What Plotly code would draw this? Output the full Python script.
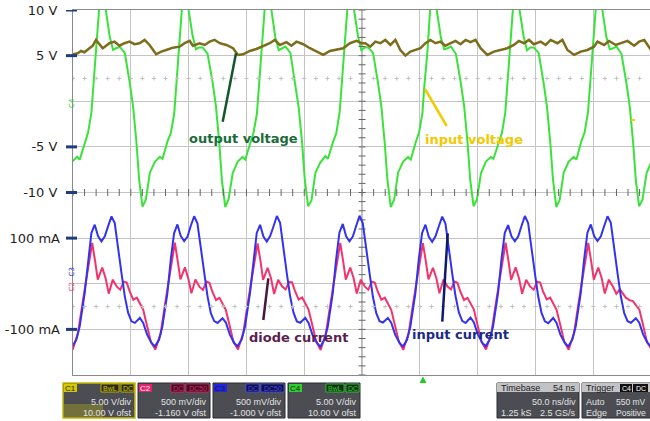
import plotly.graph_objects as go
import numpy as np

# ---------------- data ----------------
# C4 (green) - "input voltage" trace, volts vs time (ns)
c4_t = [-8.6, -5.1, -0.8, 3.5,
        5.8, 10.1, 13.0, 15.9, 17.3, 20.3, 22.5, 25.3, 28.3, 31.8, 34.7, 37.6, 40.5, 44.8, 49.1, 52.0, 54.9, 57.2, 60.1, 63.0, 66.5, 70.8, 75.1,
        77.4, 81.7, 84.6, 87.5, 88.9, 91.9, 94.1, 96.9, 99.9, 103.4, 106.3, 109.2, 112.1, 116.4, 120.7, 123.6, 126.5, 128.8, 131.7, 134.6, 138.1, 142.4, 146.7,
        149.0, 153.3, 156.2, 159.1, 160.5, 163.5, 165.7, 168.5, 171.5, 175.0, 177.9, 180.8, 183.7, 188.0, 192.3, 195.2, 198.1, 200.4, 203.3, 206.2, 209.7, 214.0, 218.3,
        220.5, 224.8, 227.7, 230.6, 232.0, 235.0, 237.2, 240.0, 243.0, 246.5, 249.4, 252.3, 255.2, 259.5, 263.8, 266.7, 269.6, 271.9, 274.8, 277.7, 281.2, 285.5, 289.8,
        292.1, 296.4, 299.3, 302.2, 303.6, 306.6, 308.8, 311.6, 314.6, 318.1, 321.0, 323.9, 326.8, 331.1, 335.4, 338.3, 341.2, 343.5, 346.4, 349.3, 352.8, 357.1, 361.4,
        363.7, 368.0, 370.9, 373.8, 375.2, 378.2, 380.4, 383.2, 386.2, 389.7, 392.6, 395.5, 398.4, 402.7, 407.0, 409.9, 412.8, 415.1, 418.0, 420.9, 424.4, 428.7, 433.0,
        435.3, 439.6, 442.5, 445.4, 446.8, 449.8, 452.0, 454.8, 457.8, 461.3, 464.2, 467.1, 470.0, 474.3, 478.6, 481.5, 484.4, 486.7, 489.6, 492.5, 496.0, 500.3, 504.6]
c4_v = [-10.8, -7.83, -6.63, -6.08,
        -6.4, -4.55, -3.46, -1.27, 1.25, 5.62, 10.0, 12.6, 10.0, 7.05, 5.62, 5.84, 5.95, 5.29, 2.01, -0.61, -4.55, -8.6, -11.55, -10.8, -7.83, -6.63, -6.08,
        -6.3, -4.4, -3.5, -1.4, 1.1, 5.5, 10.0, 12.5, 10.0, 7.2, 5.7, 5.9, 5.9, 5.2, 2.1, -0.5, -4.6, -8.7, -11.6, -10.7, -7.9, -6.6, -6.1,
        -6.4, -4.6, -3.4, -1.3, 1.3, 5.7, 10.0, 12.7, 10.0, 7.0, 5.6, 5.8, 6.0, 5.3, 1.9, -0.7, -4.5, -8.5, -11.5, -10.9, -7.8, -6.7, -6.0,
        -6.3, -4.5, -3.5, -1.2, 1.2, 5.6, 10.0, 12.6, 10.0, 7.1, 5.6, 5.9, 5.9, 5.3, 2.0, -0.6, -4.6, -8.6, -11.6, -10.8, -7.8, -6.6, -6.1,
        -6.4, -4.5, -3.4, -1.3, 1.3, 5.6, 10.0, 12.6, 10.0, 7.0, 5.7, 5.8, 6.0, 5.2, 2.0, -0.6, -4.5, -8.6, -11.5, -10.8, -7.9, -6.6, -6.1,
        -6.3, -4.6, -3.5, -1.3, 1.2, 5.6, 10.0, 12.5, 10.0, 7.1, 5.6, 5.9, 5.9, 5.3, 2.0, -0.6, -4.6, -8.6, -11.6, -10.8, -7.8, -6.6, -6.1,
        -6.4, -4.4, -3.4, -1.2, 1.3, 5.7, 10.0, 12.6, 10.0, 7.0, 5.7, 5.8, 6.0, 5.2, 2.0, -0.6, -4.5, -8.6, -11.5, -10.8, -7.9, -6.6, -6.1]

# C1 (olive) - "output voltage" trace
c1_t = [0.0, 4.1, 6.9, 9.9, 14.2, 17.1, 19.9, 22.9, 25.7, 28.6, 31.5, 35.9, 40.2, 44.5, 48.9, 53.2, 57.5, 61.9, 66.2,
        71.9, 76.3, 80.6, 86.4, 92.2, 96.5, 100.9, 103.7, 109.5, 113.9, 118.2, 122.5, 126.9, 132.6, 138.4,
        142.7, 147.1, 152.9, 158.6, 164.4, 170.2, 174.5, 178.9, 184.6, 188.9, 193.3, 199.1, 204.9, 210.6,
        216.4, 222.2, 227.9, 233.7, 239.5, 245.2, 249.6, 252.8, 257.1, 261.5, 265.8, 270.1, 274.5, 278.8, 283.1,
        287.5, 291.8, 296.1, 300.5, 304.8, 309.1, 313.5, 317.8, 322.1, 326.5, 330.8, 335.1, 339.5, 343.8, 348.1, 352.5,
        358.3, 364.0, 369.8, 375.6, 381.3, 385.6, 390.0, 394.3, 398.6, 404.4, 408.8, 413.1, 418.9, 423.2, 427.6,
        433.3, 439.1, 444.9, 450.6, 453.6, 459.3, 463.6, 469.4, 473.8, 479.6, 485.3, 489.6, 494.0, 498.3, 500.0]
c1_v = [5.15, 5.26, 5.51, 5.37, 5.81, 6.09, 6.72, 6.25, 5.81, 6.09, 6.36, 6.53, 6.09, 6.36, 6.53, 6.25, 6.36, 6.72, 6.17,
        5.15, 5.44, 5.62, 5.87, 5.98, 6.36, 6.61, 6.09, 6.36, 6.17, 6.53, 6.72, 6.36, 6.17, 5.81,
        5.08, 5.15, 5.51, 5.73, 6.09, 6.36, 6.72, 6.17, 6.47, 6.09, 6.53, 6.25, 5.81, 5.44,
        5.08, 5.51, 5.62, 5.81, 6.36, 6.61, 6.36, 6.36, 5.98, 6.53, 6.36, 6.72, 6.17, 6.72, 5.62,
        5.00, 5.44, 5.62, 5.81, 6.36, 6.72, 6.36, 6.53, 6.09, 6.36, 6.61, 6.25, 6.72, 6.47, 6.72, 5.81,
        5.08, 5.44, 5.62, 5.81, 6.17, 6.61, 6.36, 6.72, 6.25, 6.53, 6.17, 6.72, 6.36, 6.72, 5.62,
        5.08, 5.44, 5.62, 5.98, 6.53, 6.17, 6.61, 6.17, 6.36, 6.61, 6.09, 6.53, 6.72, 5.81, 5.60]

# C3 (blue) - "input current", mA
c3_t = [-10.8, -7.4, -3.6, -0.7,
        2.9, 5.8, 10.1, 13.0, 15.9, 18.8, 21.7, 24.6, 27.5, 30.3, 33.3, 36.1, 39.0, 41.9, 44.8, 47.7, 50.6, 53.5, 57.8, 60.7, 64.1, 67.9, 70.8,
        74.4, 77.3, 81.6, 84.5, 87.4, 90.3, 93.2, 96.1, 99.0, 101.8, 104.8, 107.6, 110.5, 113.4, 116.3, 119.2, 122.1, 125.0, 129.3, 132.2, 135.6, 139.4, 142.3,
        145.9, 148.8, 153.1, 156.0, 158.9, 161.8, 164.7, 167.6, 170.5, 173.3, 176.3, 179.1, 182.0, 184.9, 187.8, 190.7, 193.6, 196.5, 200.8, 203.7, 207.1, 210.9, 213.8,
        217.4, 220.3, 224.6, 227.5, 230.4, 233.3, 236.2, 239.1, 242.0, 244.8, 247.8, 250.6, 253.5, 256.4, 259.3, 262.2, 265.1, 268.0, 272.3, 275.2, 278.6, 282.4, 285.3,
        288.9, 291.8, 296.1, 299.0, 301.9, 304.8, 307.7, 310.6, 313.5, 316.3, 319.3, 322.1, 325.0, 327.9, 330.8, 333.7, 336.6, 339.5, 343.8, 346.7, 350.1, 353.9, 356.8,
        360.4, 363.3, 367.6, 370.5, 373.4, 376.3, 379.2, 382.1, 385.0, 387.8, 390.8, 393.6, 396.5, 399.4, 402.3, 405.2, 408.1, 411.0, 415.3, 418.2, 421.6, 425.4, 428.3,
        431.9, 434.8, 439.1, 442.0, 444.9, 447.8, 450.7, 453.6, 456.5, 459.3, 462.3, 465.1, 468.0, 470.9, 473.8, 476.7, 479.6, 482.5, 486.8, 489.7, 493.1, 496.9, 499.8,
        503.4]
c3_i = [-85.8, -111.4, -129.6, -137.3,
        -122.6, -93.5, -20.4, 52.8, 111.2, 129.4, 103.8, 92.9, 103.8, 125.7, 147.5, 133.1, 74.6, 23.6, -27.6, -63.9, -82.3, -85.8, -74.9, -85.8, -111.4, -129.6, -137.3,
        -123.0, -94.0, -21.0, 52.0, 110.5, 130.0, 104.5, 93.5, 103.0, 126.5, 148.0, 132.5, 75.5, 24.0, -27.0, -64.5, -82.0, -86.0, -75.5, -85.0, -111.0, -130.0, -137.0,
        -122.0, -93.0, -20.0, 53.5, 111.5, 129.0, 103.5, 92.5, 104.5, 125.0, 148.5, 133.5, 74.0, 23.0, -28.0, -63.5, -82.5, -85.5, -74.5, -86.0, -112.0, -129.0, -138.0,
        -122.5, -94.5, -21.5, 52.5, 112.0, 131.0, 104.0, 93.0, 103.5, 126.0, 149.0, 133.0, 75.0, 24.5, -27.5, -64.0, -82.0, -85.0, -75.0, -85.5, -111.5, -129.5, -137.5,
        -123.0, -93.5, -20.5, 53.0, 111.0, 129.5, 103.0, 92.0, 104.0, 125.5, 147.0, 132.0, 74.5, 23.5, -27.0, -63.0, -81.5, -86.0, -74.0, -85.0, -111.0, -129.0, -137.0,
        -122.5, -93.0, -20.0, 52.5, 111.5, 128.5, 104.0, 93.0, 103.5, 126.0, 148.5, 133.0, 74.5, 24.0, -27.5, -64.0, -82.5, -86.5, -75.0, -86.0, -112.0, -130.0, -137.5,
        -122.0, -93.5, -20.5, 53.0, 112.0, 130.0, 104.5, 93.5, 104.0, 126.0, 148.0, 133.5, 75.0, 23.5, -28.0, -64.5, -82.0, -85.5, -75.5, -85.5, -111.5, -129.5, -137.0,
        -122.6]

# C2 (red) - "diode current", mA
c2_t = [-10.8, -7.9, -4.2, -0.3,
        4.3, 8.7, 13.0, 16.6, 19.2, 21.4, 25.3, 28.3, 30.9, 34.4, 37.9, 40.9, 43.9, 46.5, 49.1, 52.2, 55.2, 57.8, 60.7, 63.6, 67.3, 71.2,
        75.8, 80.2, 84.5, 88.1, 90.7, 92.9, 96.8, 99.8, 102.4, 105.9, 109.4, 112.4, 115.4, 118.0, 120.6, 123.7, 126.7, 129.3, 132.2, 135.1, 138.8, 142.7,
        147.3, 151.7, 156.0, 159.6, 162.2, 164.4, 168.3, 171.3, 173.9, 177.4, 180.9, 183.9, 186.9, 189.5, 192.1, 195.2, 198.2, 200.8, 203.7, 206.6, 210.3, 214.2,
        218.8, 223.2, 227.5, 231.1, 233.7, 235.9, 239.8, 242.8, 245.4, 248.9, 252.4, 255.4, 258.4, 261.0, 263.6, 266.7, 269.7, 272.3, 275.2, 278.1, 281.8, 285.7,
        290.3, 294.7, 299.0, 302.6, 305.2, 307.4, 311.3, 314.3, 316.9, 320.4, 323.9, 326.9, 329.9, 332.5, 335.1, 338.2, 341.2, 343.8, 346.7, 349.6, 353.3, 357.2,
        361.8, 366.2, 370.5, 374.1, 376.7, 378.9, 382.8, 385.8, 388.4, 391.9, 395.4, 398.4, 401.4, 404.0, 406.6, 409.7, 412.7, 415.3, 418.2, 421.1, 424.8, 428.7,
        433.3, 437.7, 442.0, 445.6, 448.2, 450.4, 454.3, 457.3, 459.9, 463.4, 466.9, 469.9, 472.9, 475.5, 478.1, 481.2, 484.2, 486.8, 489.7, 492.6, 496.3, 500.2,
        504.8]
c2_i = [-56.9, -87.6, -127.0, -144.3,
        -107.8, -34.8, 30.9, 89.3, 48.2, 9.0, 35.3, 11.2, -21.7, 9.0, -6.4, -12.9, 4.6, 2.4, -17.5, -35.0, -30.6, -43.8, -56.9, -87.6, -127.0, -144.3,
        -108.5, -35.5, 30.0, 90.0, 47.5, 9.5, 36.0, 10.5, -21.0, 9.5, -7.0, -13.5, 5.0, 2.0, -18.0, -35.5, -31.0, -44.0, -57.5, -88.0, -127.5, -144.0,
        -107.0, -34.0, 31.5, 88.5, 49.0, 8.5, 35.0, 11.5, -22.5, 8.5, -6.0, -12.5, 4.0, 3.0, -17.0, -34.5, -30.0, -43.0, -56.5, -87.0, -126.5, -145.0,
        -108.0, -35.0, 31.0, 89.5, 48.5, 9.0, 35.5, 11.0, -21.5, 9.0, -6.5, -13.0, 4.5, 2.5, -17.5, -35.0, -30.5, -44.0, -57.0, -87.5, -127.0, -144.5,
        -107.5, -34.5, 30.5, 89.0, 48.0, 9.5, 35.0, 11.5, -21.0, 9.5, -6.0, -12.5, 5.0, 2.0, -18.0, -35.5, -31.0, -43.5, -56.5, -88.0, -127.5, -144.0,
        -108.0, -35.0, 31.0, 90.0, 48.5, 8.5, 36.0, 11.0, -22.0, 8.5, -6.5, -13.0, 4.5, 2.5, -17.5, -34.5, -30.5, -44.5, -57.0, -87.0, -126.5, -144.5,
        -107.5, -34.5, 30.5, 89.5, 48.0, 9.0, 35.5, 11.5, -21.5, 9.0, -6.0, -22.0, -12.0, -20.0, -30.5, -36.0, -38.0, -47.0, -56.0, -86.0, -127.0, -144.0,
        -107.8]

# axis ticks / labels
v_tick_vals = [10, 5, -5, -10]
v_tick_text = ["10 V", "5 V", "-5 V", "-10 V"]
i_tick_vals = [100, -100]
i_tick_text = ["100 mA", "-100 mA"]

# annotation texts
label_texts = ["output voltage", "input voltage", "diode current", "input current"]

# ---------------- layout geometry helpers ----------------
W, H = 650, 421
ML, MR, MT, MB = 73, 0, 10, 46
PW, PH = W - ML - MR, H - MT - MB


def px(x):
    return (x - ML) / PW


def py(y):
    return (H - MB - y) / PH


GRID = "#c4c4c4"
AX = "#8a8a8a"

fig = go.Figure()

# scope traces
fig.add_trace(go.Scatter(x=c4_t, y=c4_v, mode="lines", line=dict(color="#3ae23a", width=2), yaxis="y"))
fig.add_trace(go.Scatter(x=c1_t, y=c1_v, mode="lines", line=dict(color="#7c6c1c", width=2.5), yaxis="y"))
fig.add_trace(go.Scatter(x=c2_t, y=c2_i, mode="lines", line=dict(color="#f2336c", width=2), yaxis="y2"))
fig.add_trace(go.Scatter(x=c3_t, y=c3_i, mode="lines", line=dict(color="#3333ee", width=2), yaxis="y2"))

# graticule decorations: minor ticks on the centre axes and dotted level lines
mt_x = np.arange(0, 500, 10)
fig.add_trace(go.Scatter(x=mt_x, y=np.full(mt_x.shape, -10.0), mode="markers",
                         marker=dict(symbol="line-ns", size=5, line=dict(color="#666", width=1)),
                         yaxis="y", hoverinfo="skip"))
mt_y = np.arange(-30, 10.01, 1)
fig.add_trace(go.Scatter(x=np.full(mt_y.shape, 250.0), y=mt_y, mode="markers",
                         marker=dict(symbol="line-ew", size=5, line=dict(color="#666", width=1)),
                         yaxis="y", hoverinfo="skip"))
fig.add_trace(go.Scatter(x=mt_x, y=np.full(mt_x.shape, 2.5), mode="markers",
                         marker=dict(symbol="cross-thin", size=3, line=dict(color="#c2c2c2", width=1)),
                         yaxis="y", hoverinfo="skip"))
fig.add_trace(go.Scatter(x=mt_x, y=np.full(mt_x.shape, -50.0), mode="markers",
                         marker=dict(symbol="cross-thin", size=3, line=dict(color="#c2c2c2", width=1)),
                         yaxis="y2", hoverinfo="skip"))

shapes = []
# darker centre axes
shapes.append(dict(type="line", xref="paper", yref="y", x0=0, x1=1, y0=-10, y1=-10,
                   line=dict(color="#7a7a7a", width=1.2), layer="below"))
shapes.append(dict(type="line", xref="x", yref="paper", x0=250, x1=250, y0=0, y1=1,
                   line=dict(color="#7a7a7a", width=1.2), layer="below"))
# left tick dashes
for v in v_tick_vals:
    shapes.append(dict(type="line", xref="paper", yref="y", x0=px(66), x1=px(77), y0=v, y1=v,
                       line=dict(color="#203c7c", width=3)))
for v in i_tick_vals:
    shapes.append(dict(type="line", xref="paper", yref="y2", x0=px(66), x1=px(77), y0=v, y1=v,
                       line=dict(color="#203c7c", width=3)))

# annotation pointer lines
pointers = [((222.7, 121.7), (236, 53.3), "#11572c"),
            ((425, 89), (446.7, 126), "#f2cc00"),
            ((268.3, 278.3), (263.3, 320), "#4a1740"),
            ((447.7, 233.3), (442.3, 321.7), "#0f1a6e")]
for (a, b, col) in pointers:
    shapes.append(dict(type="line", xref="paper", yref="paper", x0=px(a[0]), y0=py(a[1]),
                       x1=px(b[0]), y1=py(b[1]), line=dict(color=col, width=2.5)))

# small yellow marker on the right
shapes.append(dict(type="line", xref="paper", yref="paper", x0=px(631), x1=px(635), y0=py(120), y1=py(120),
                   line=dict(color="#f5d000", width=2)))

annotations = []
lab_pos = [(187, 138, "#1b6b3a"), (423, 139, "#f2c800"), (247, 337, "#5a1e50"), (410, 334, "#1c2a85")]
for txt, (x, y, col) in zip(label_texts, lab_pos):
    annotations.append(dict(xref="paper", yref="paper", x=px(x), y=py(y), text="<b>%s</b>" % txt,
                            showarrow=False, xanchor="left", yanchor="middle",
                            font=dict(family="DejaVu Sans", size=13, color=col)))

# channel tags on left edge
for txt, x, y, col in [("C4", 66, 96, "#30c030"), ("C3", 65, 279, "#3030e0"), ("C2", 65, 294, "#f0306a")]:
    annotations.append(dict(xref="paper", yref="paper", x=px(x), y=py(y), text=txt, showarrow=False,
                            textangle=-90, font=dict(family="DejaVu Sans", size=7, color=col)))

# ---------------- bottom info boxes ----------------
BOX = "#4b4d52"
TXT = "#e2e2e2"
F = "Liberation Sans"


def rect(x0, y0, x1, y1, fill, line=None, lw=0):
    shapes.append(dict(type="rect", xref="paper", yref="paper", x0=px(x0), x1=px(x1), y0=py(y1), y1=py(y0),
                       fillcolor=fill, line=dict(color=line or fill, width=lw), layer="above"))


def text(x, y, s, col=TXT, anchor="right", size=9):
    annotations.append(dict(xref="paper", yref="paper", x=px(x), y=py(y), text=s, showarrow=False,
                            xanchor=anchor, yanchor="middle", font=dict(family=F, size=size, color=col)))


chan_boxes = [
    (63, "C1", "#d6c800", "#2b2a14", ["BwL", "DC"], "#d6c800", "5.00 V/div", "10.00 V ofst"),
    (138, "C2", "#e8206a", "#3a1222", ["DC", "DC50"], "#e8206a", "500 mV/div", "-1.160 V ofst"),
    (213, "C3", "#2424e8", "#10113c", ["DC", "DC50"], "#4a4aff", "500 mV/div", "-1.000 V ofst"),
    (288, "C4", "#30d030", "#133014", ["BwL", "DC"], "#30d030", "5.00 V/div", "10.00 V ofst"),
]
for x0, name, tagc, tagbg, tags, tagtxt, l1, l2 in chan_boxes:
    x1 = x0 + 72
    if name == "C1":
        rect(x0, 383, x1, 418, BOX, "#c8b800", 1.5)
        rect(x0 + 1, 404, x0 + 40, 417, "rgba(190,180,20,0.35)")
    else:
        rect(x0, 383, x1, 418, BOX, "#2c2d30", 1)
    rect(x0 + 1, 384, x0 + 14, 392, tagc)
    text(x0 + 7.5, 388, name, "#1a1a1a" if name != "C2" else "#ffffff", "center", 8)
    tx = x1 - 1
    for tg in reversed(tags):
        w = 5 * len(tg) + 3
        rect(tx - w, 384, tx, 392, tagbg, tagtxt, 0.8)
        text(tx - w / 2, 388, tg, tagtxt, "center", 7)
        tx -= w + 2
    text(x1 - 1, 402, l1)
    text(x1 - 1, 413, l2)

# timebase
rect(497, 383, 579, 418, BOX, "#2c2d30", 1)
rect(497, 383, 579, 392, "#c2c3c6")
text(499, 388, "Timebase", "#222", "left")
text(578, 388, "54 ns", "#222", "right")
text(578, 402, "50.0 ns/div")
text(499, 413, "1.25 kS", anchor="left")
text(578, 413, "2.5 GS/s")
# trigger
rect(582, 383, 660, 418, BOX, "#2c2d30", 1)
rect(582, 383, 660, 392, "#c2c3c6")
text(584, 388, "Trigger", "#222", "left")
rect(620, 384, 632, 392, "#111111")
text(626, 388, "C4", "#ffffff", "center", 7)
rect(633, 384, 648, 392, "#111111")
text(640.5, 388, "DC", "#ffffff", "center", 7)
text(584, 402, "Auto", anchor="left")
text(648, 402, "550 mV", anchor="right", size=8.5)
text(584, 413, "Edge", anchor="left")
text(648, 413, "Positive", anchor="right", size=8.5)

# trigger position triangle
shapes.append(dict(type="path", xref="paper", yref="paper",
                   path="M %f,%f L %f,%f L %f,%f Z" % (px(419.5), py(383), px(426.5), py(383), px(423), py(376.5)),
                   fillcolor="#22cc22", line=dict(color="#22cc22", width=0)))

fig.update_layout(
    width=W, height=H,
    margin=dict(l=ML, r=MR, t=MT, b=MB, pad=0),
    paper_bgcolor="white", plot_bgcolor="white",
    showlegend=False,
    shapes=shapes, annotations=annotations,
    xaxis=dict(range=[0, 499], tick0=0, dtick=50, showticklabels=False, ticks="",
               showgrid=True, gridcolor=GRID, gridwidth=1, zeroline=False,
               showline=True, linecolor=AX, linewidth=1, mirror=True, fixedrange=True),
    yaxis=dict(range=[-30, 10], tickvals=v_tick_vals, ticktext=v_tick_text, ticks="",
               showgrid=True, gridcolor=GRID, gridwidth=1, zeroline=False,
               minor=dict(tick0=0, dtick=5, showgrid=True, gridcolor=GRID, gridwidth=1, ticks=""),
               showline=True, linecolor=AX, linewidth=1,
               tickfont=dict(family="DejaVu Sans", size=13, color="#1e1e1e"),
               ticklabelstandoff=12),
    yaxis2=dict(range=[-200, 600], overlaying="y", side="left", tickvals=i_tick_vals, ticktext=i_tick_text,
                ticks="", showgrid=False, zeroline=False, showline=False,
                tickfont=dict(family="DejaVu Sans", size=13, color="#1e1e1e"),
                ticklabelstandoff=12),
)

fig.write_html("out.html")
